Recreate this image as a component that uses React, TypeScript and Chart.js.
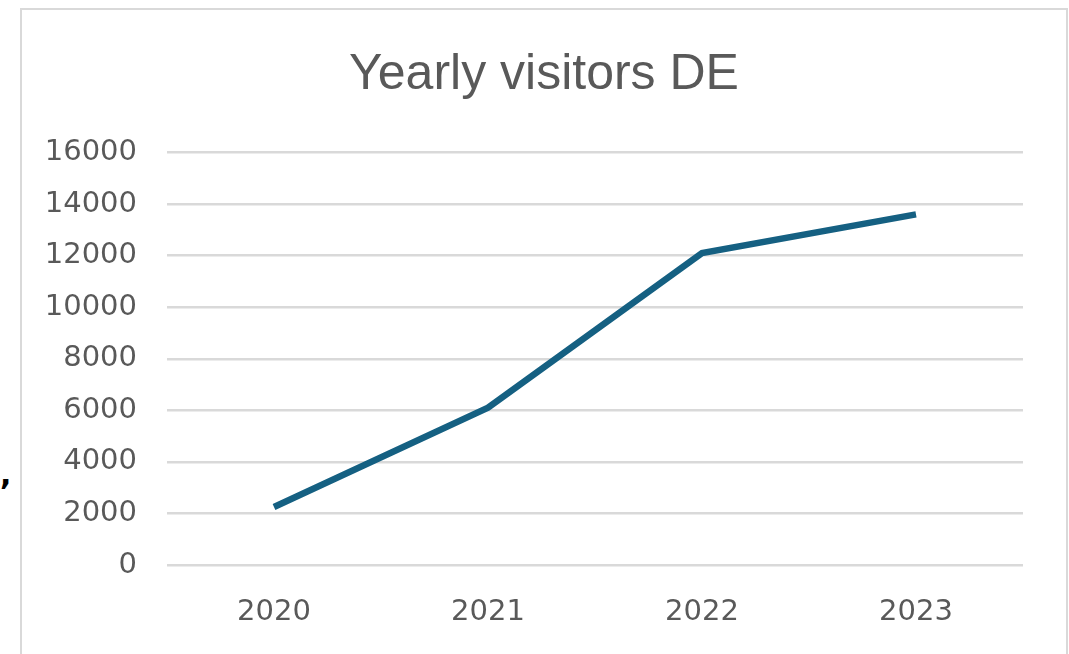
import React, { useEffect, useRef } from "react";
import { Chart, registerables } from "chart.js";

Chart.register(...registerables);

const categories: string[] = ["2020", "2021", "2022", "2023"];
const visitors: number[] = [2250, 6100, 12100, 13600];
const yTicks: number[] = [0, 2000, 4000, 6000, 8000, 10000, 12000, 14000, 16000];
const titleText = "Yearly visitors DE";

export default function App() {
  const ref = useRef<HTMLCanvasElement | null>(null);

  useEffect(() => {
    if (!ref.current) return;
    const chart = new Chart(ref.current, {
      type: "line",
      data: {
        labels: categories,
        datasets: [
          {
            data: visitors,
            borderColor: "#156082",
            backgroundColor: "#156082",
            borderWidth: 6.5,
            pointRadius: 0,
            tension: 0,
            fill: false,
            yAxisID: "y",
          },
        ],
      },
      options: {
        animation: false,
        responsive: false,
        maintainAspectRatio: false,
        layout: { padding: { left: 0, right: 0, top: 0, bottom: 28.6 } },
        plugins: {
          legend: { display: false },
          tooltip: { enabled: false },
          title: {
            display: true,
            text: titleText,
            color: "#595959",
            font: { family: "Liberation Sans", size: 50, weight: "normal" },
            padding: { top: 35.7, bottom: 46.8 },
          },
        },
        scales: {
          x: {
            offset: true,
            grid: { display: false },
            border: { display: false },
            afterFit: (scale: any) => {
              scale.height = 60.4;
            },
            ticks: {
              color: "#595959",
              font: { family: "DejaVu Sans", size: 29 },
              padding: 21.6,
              maxRotation: 0,
              autoSkip: false,
            },
          },
          y: {
            position: "left",
            min: yTicks[0],
            max: yTicks[yTicks.length - 1],
            afterBuildTicks: (scale: any) => {
              scale.ticks = yTicks.map((v) => ({ value: v }));
            },
            afterFit: (scale: any) => {
              scale.width = 145;
            },
            grid: { color: "#d9d9d9", lineWidth: 2.5, drawTicks: false },
            border: { display: false },
            ticks: {
              color: "#595959",
              font: { family: "DejaVu Sans", size: 29 },
              padding: 30,
              callback: (v: any) => String(v),
            },
          },
          yRight: {
            position: "right",
            display: true,
            min: yTicks[0],
            max: yTicks[yTicks.length - 1],
            grid: { display: false, drawTicks: false },
            border: { display: false },
            ticks: { display: false },
            afterFit: (scale: any) => {
              scale.width = 43;
            },
          },
        },
      },
    });
    return () => chart.destroy();
  }, []);

  return (
    <div style={{ position: "absolute", left: 0, top: 0, width: 1069, height: 654, background: "#ffffff", overflow: "hidden" }}>
      <div
        style={{
          position: "absolute",
          left: 20,
          top: 8,
          width: 1044,
          height: 700,
          border: "2px solid #d9d9d9",
        }}
      >
        <canvas ref={ref} width={1044} height={644} style={{ display: "block", width: 1044, height: 644 }} />
      </div>
      <span
        style={{
          position: "absolute",
          left: 0,
          top: 460,
          fontFamily: "DejaVu Sans",
          fontWeight: "bold",
          fontSize: 30,
          color: "#000000",
          lineHeight: "30px",
        }}
      >
        ,
      </span>
    </div>
  );
}
